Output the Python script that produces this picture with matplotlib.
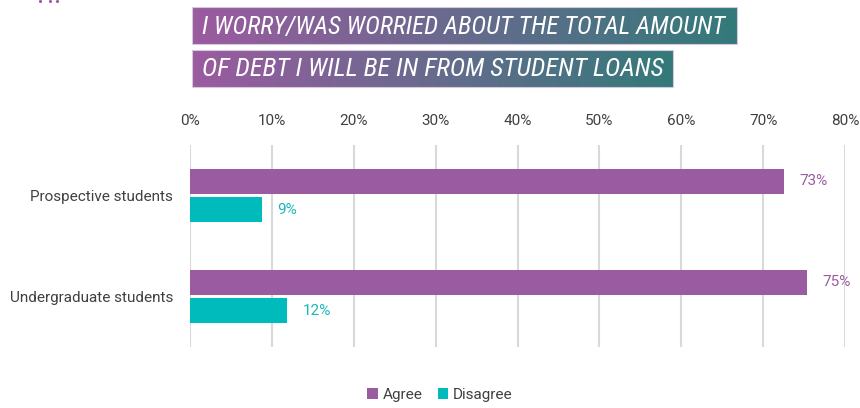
import matplotlib
matplotlib.use("Agg")
import matplotlib.pyplot as plt
from matplotlib import font_manager as fm
import numpy as np
from matplotlib.patches import Rectangle

categories = ["Prospective students", "Undergraduate students"]
agree = [72.5, 75.3]
disagree = [8.8, 11.9]
agree_labels = ["73%", "75%"]
disagree_labels = ["9%", "12%"]
xticks = [0, 10, 20, 30, 40, 50, 60, 70, 80]
title_lines = ["I WORRY/WAS WORRIED ABOUT THE TOTAL AMOUNT",
               "OF DEBT I WILL BE IN FROM STUDENT LOANS"]

PURPLE = "#9b5ba0"
TEAL = "#00bbbb"
GREY = "#404040"
W, H = 860, 408

# find a narrow font for the title if one is installed
names = {f.name for f in fm.fontManager.ttflist}
narrow = None
for cand in ["Liberation Sans Narrow", "Roboto Condensed", "Open Sans Condensed",
             "DejaVu Sans Condensed", "Noto Sans Condensed"]:
    if cand in names:
        narrow = cand
        break
title_kw = {}
if narrow:
    title_kw["family"] = [narrow, "DejaVu Sans"]
else:
    dvc = [f for f in fm.fontManager.ttflist
           if f.name == "DejaVu Sans" and "condensed" in str(f.stretch)]
    title_kw["family"] = ["DejaVu Sans"]
    if dvc:
        title_kw["fontstretch"] = "condensed"

fig = plt.figure(figsize=(W / 100, H / 100), dpi=100)
font = ["Roboto", "DejaVu Sans"]

ax = fig.add_axes([190 / W, 1 - 347 / H, 655 / W, 202 / H])
y = np.arange(len(categories))
off = 0.14
h = 0.25
ax.barh(y - off, agree, height=h, color=PURPLE, label="Agree", zorder=3)
ax.barh(y + off, disagree, height=h, color=TEAL, label="Disagree", zorder=3)
for i in range(len(categories)):
    ax.text(agree[i] + 1.9, y[i] - off, agree_labels[i], color=PURPLE,
            va="center", ha="left", fontsize=11, family=font)
    ax.text(disagree[i] + 1.9, y[i] + off, disagree_labels[i], color="#1ab8b8",
            va="center", ha="left", fontsize=11, family=font)
ax.set_xlim(0, 80)
ax.set_ylim(1.5, -0.5)
ax.set_xticks(xticks)
ax.set_xticklabels([f"{t}%" for t in xticks], fontsize=11, color=GREY, family=font)
ax.xaxis.tick_top()
ax.tick_params(axis="x", length=0, pad=12)
ax.set_yticks(y)
ax.set_yticklabels(categories, fontsize=11, color=GREY, family=font)
ax.tick_params(axis="y", length=0, pad=12)
ax.grid(axis="x", color="#d9d9d9", linewidth=1.5, zorder=0)
for s in ax.spines.values():
    s.set_visible(False)

leg = fig.legend(loc="center", bbox_to_anchor=(440 / W, 1 - 395 / H), ncol=2,
                 frameon=False, prop={"family": font, "size": 11},
                 handlelength=0.7, handleheight=0.7, handletextpad=0.3,
                 columnspacing=1.0, labelcolor=GREY)

# title gradient boxes
tax = fig.add_axes([0, 0, 1, 1])
tax.set_xlim(0, W)
tax.set_ylim(H, 0)
tax.axis("off")
c1 = np.array(matplotlib.colors.to_rgb("#9b5ba0"))
c2 = np.array(matplotlib.colors.to_rgb("#337a7a"))
boxes = [(192, 7, 737, 44), (192, 50, 673, 87)]
text_w = [526, 463]
renderer = fig.canvas.get_renderer()
for (x0, y0, x1, y1), line, tw in zip(boxes, title_lines, text_w):
    t = np.linspace(0, 1, 256)[None, :, None]
    grad = c1 * (1 - t) + c2 * t
    tax.imshow(grad, extent=(x0, x1, y1, y0), aspect="auto", zorder=1)
    tax.add_patch(Rectangle((x0, y0), x1 - x0, y1 - y0, fill=False,
                            edgecolor="#d8c8dc", linewidth=0.8, zorder=2))
    txt = tax.text(x0 + 10, (y0 + y1) / 2 + 1, line, color="white", fontsize=16,
                   style="italic", va="center", ha="left", zorder=3, **title_kw)
    bb = txt.get_window_extent(renderer)
    txt.set_fontsize(min(20, 16 * tw / bb.width))

# decorative dots of the logo fragment at top-left
tax.scatter([40, 50, 57], [0.5, 1.2, 0.5], s=5, color=PURPLE, linewidths=0, zorder=3)
tax.set_xlim(0, W)
tax.set_ylim(H, 0)

fig.savefig("out.png", dpi=100)
